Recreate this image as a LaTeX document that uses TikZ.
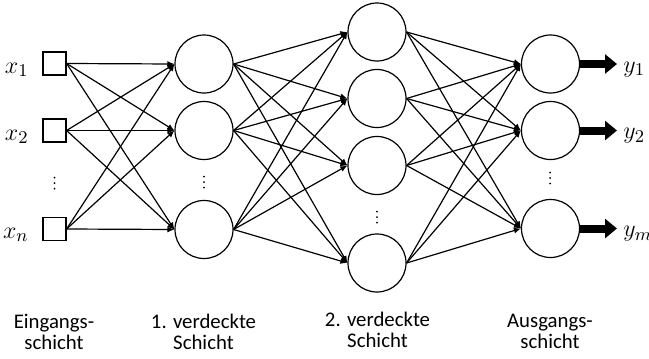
\documentclass[tikz,border=0pt]{standalone}
\usepackage{fontspec}
\setmainfont{Carlito}
\usepackage{amsmath, amssymb}
\usetikzlibrary{arrows.meta}

\tikzset{
  neuron/.style={draw, circle, line width=0.6pt, minimum size=29pt, inner sep=0pt},
  inbox/.style={draw, rectangle, line width=0.6pt, minimum size=11.5pt, inner sep=0pt},
  conn/.style={line width=0.6pt, -{Latex[length=3.5pt,width=3pt]}},
  outarr/.style={line width=4pt, -{Triangle[length=6pt,width=9.5pt]}},
  varlbl/.style={inner sep=0pt, font=\fontsize{12.5}{13}\selectfont},
  layerlbl/.style={inner sep=0pt, align=center, anchor=north, font=\fontsize{10.4}{10.5}\selectfont}
}

\begin{document}
\begin{tikzpicture}[x=0.5pt, y=-0.5pt]
        \useasboundingbox (0,0) rectangle (649,359);
        % Eingangsschicht
        \node [inbox] (i1) at (54.5, 63.5) {};
        \node [inbox] (i2) at (54.5, 130.5) {};
        \node [inbox] (in) at (54.5, 229) {};
        \node [varlbl, anchor=base east] (x1) at (29, 73) {$x_1$};
        \node [varlbl, anchor=base east] (x2) at (29, 140) {$x_2$};
        \node [varlbl, anchor=base east] (xn) at (29, 238) {$x_n$};
        \fill (54.5, 177.5) circle [radius = 1];
        \fill (54.5, 183) circle [radius = 1];
        \fill (54.5, 188.5) circle [radius = 1];
        % 1. verdeckte Schicht
        \node [neuron] (a1) at (204, 64) {};
        \node [neuron] (a2) at (204, 130.5) {};
        \node [neuron] (a3) at (204, 229.5) {};
        \fill (204, 176.5) circle [radius = 1];
        \fill (204, 182) circle [radius = 1];
        \fill (204, 187.5) circle [radius = 1];
        % 2. verdeckte Schicht
        \node [neuron] (b1) at (377, 32) {};
        \node [neuron] (b2) at (377, 98.5) {};
        \node [neuron] (b3) at (377, 165.5) {};
        \node [neuron] (b4) at (377, 263) {};
        \fill (377, 211.5) circle [radius = 1];
        \fill (377, 217) circle [radius = 1];
        \fill (377, 222.5) circle [radius = 1];
        % Ausgangsschicht
        \node [neuron] (o1) at (550.5, 64) {};
        \node [neuron] (o2) at (550.5, 130.5) {};
        \node [neuron] (om) at (550.5, 228.5) {};
        \fill (550, 172.5) circle [radius = 1];
        \fill (550, 178) circle [radius = 1];
        \fill (550, 183.5) circle [radius = 1];
        \node [varlbl, anchor=base west] (y1) at (623, 72) {$y_1$};
        \node [varlbl, anchor=base west] (y2) at (623, 138.5) {$y_2$};
        \node [varlbl, anchor=base west] (ym) at (623, 236.5) {$y_m$};
        % Verbindungen
        \draw [conn] (i1.east) -- (a1.west);
        \draw [conn] (i1.east) -- (a2.west);
        \draw [conn] (i1.east) -- (a3.west);
        \draw [conn] (i2.east) -- (a1.west);
        \draw [conn] (i2.east) -- (a2.west);
        \draw [conn] (i2.east) -- (a3.west);
        \draw [conn] (in.east) -- (a1.west);
        \draw [conn] (in.east) -- (a2.west);
        \draw [conn] (in.east) -- (a3.west);
        \draw [conn] (a1.east) -- (b1.west);
        \draw [conn] (a1.east) -- (b2.west);
        \draw [conn] (a1.east) -- (b3.west);
        \draw [conn] (a1.east) -- (b4.west);
        \draw [conn] (a2.east) -- (b1.west);
        \draw [conn] (a2.east) -- (b2.west);
        \draw [conn] (a2.east) -- (b3.west);
        \draw [conn] (a2.east) -- (b4.west);
        \draw [conn] (a3.east) -- (b1.west);
        \draw [conn] (a3.east) -- (b2.west);
        \draw [conn] (a3.east) -- (b3.west);
        \draw [conn] (a3.east) -- (b4.west);
        \draw [conn] (b1.east) -- (o1.west);
        \draw [conn] (b1.east) -- (o2.west);
        \draw [conn] (b1.east) -- (om.west);
        \draw [conn] (b2.east) -- (o1.west);
        \draw [conn] (b2.east) -- (o2.west);
        \draw [conn] (b2.east) -- (om.west);
        \draw [conn] (b3.east) -- (o1.west);
        \draw [conn] (b3.east) -- (o2.west);
        \draw [conn] (b3.east) -- (om.west);
        \draw [conn] (b4.east) -- (o1.west);
        \draw [conn] (b4.east) -- (o2.west);
        \draw [conn] (b4.east) -- (om.west);
        \draw [outarr] (o1.east) -- (o1.east -| 617, 0);
        \draw [outarr] (o2.east) -- (o2.east -| 617, 0);
        \draw [outarr] (om.east) -- (om.east -| 617, 0);
        % Beschriftung
        \node [layerlbl] (l0) at (54, 314) {Eingangs-\\schicht};
        \node [layerlbl] (l1) at (203.5, 314) {1. verdeckte\\Schicht};
        \node [layerlbl] (l2) at (377.5, 312) {2. verdeckte\\Schicht};
        \node [layerlbl] (l3) at (550, 314) {Ausgangs-\\schicht};
      \end{tikzpicture}
\end{document}
